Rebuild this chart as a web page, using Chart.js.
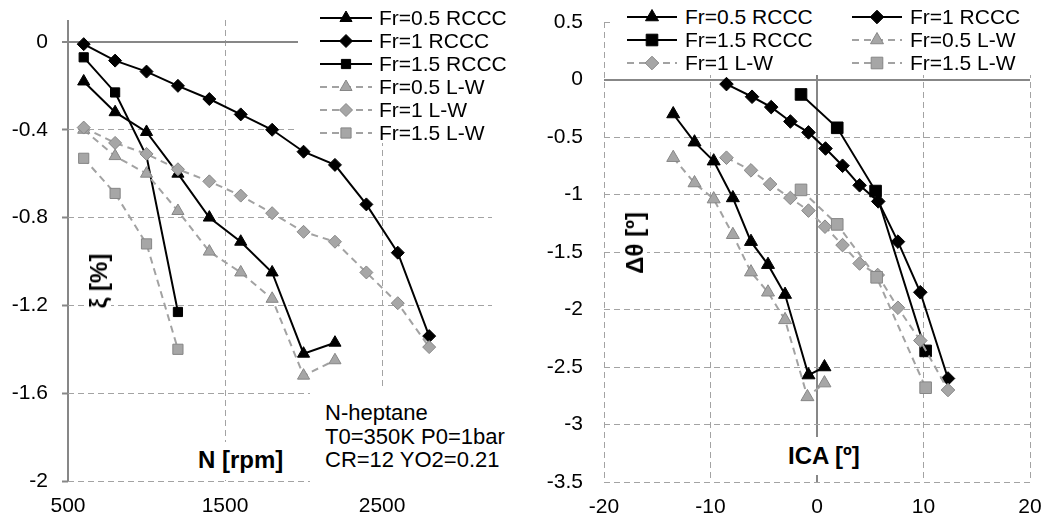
<!DOCTYPE html>
<html>
<head>
<meta charset="utf-8">
<script src="https://cdn.jsdelivr.net/npm/chart.js@4.4.1/dist/chart.umd.min.js"></script>
<style>
  body { margin: 0; background: #fff; width: 1048px; height: 527px; position: relative; overflow: hidden;
         font-family: 'Liberation Sans', Arial, sans-serif; color: #000; }
  .plot { position: absolute; top: 0; }
  .box { position: absolute; background: #fff; white-space: nowrap; }
  .legend .item { display: flex; align-items: center; font-size: 21px; }
  .legend canvas { display: block; }
  .title { font-weight: bold; font-size: 24px; }
  .rot { position: absolute; background: #fff; white-space: nowrap; font-weight: bold; font-size: 24px;
         transform: translate(-50%, -50%) rotate(-90deg); line-height: 24px; padding: 0 2px; }
</style>
</head>
<body>
<canvas id="leftChart" class="plot" width="524" height="527" style="left:0"></canvas>
<canvas id="rightChart" class="plot" width="524" height="527" style="left:524px"></canvas>

<div id="leftLegend" class="box legend" style="left:298px; top:0; width:234px; height:143px; padding:6px 0 0 22px; box-sizing:border-box;"></div>
<div id="rightLegend" class="box legend" style="left:612px; top:0; width:436px; height:75px; padding:6px 0 0 15px; box-sizing:border-box; display:grid; grid-template-columns:225px auto;"></div>

<div class="box" style="left:310px; top:386px; width:200px; height:100px; padding:15px 0 0 15px; box-sizing:border-box; font-size:22px; line-height:23.5px;">N-heptane<br>T0=350K P0=1bar<br>CR=12 YO2=0.21</div>
<div class="box title" style="left:194px; top:442px; height:35px; line-height:35px; padding:0 4px;">N [rpm]</div>
<div class="box title" style="left:784px; top:437px; height:38px; line-height:38px; padding:0 4px;">ICA [º]</div>
<div class="rot" style="left:99px; top:281px;">ξ [%]</div>
<div class="rot" style="left:635px; top:243px;">Δθ [º]</div>

<script>
// left chart: xi [%] vs N [rpm]
var rpm05 = [600, 800, 1000, 1200, 1400, 1600, 1800, 2000, 2200];
var rpm1 = [600, 800, 1000, 1200, 1400, 1600, 1800, 2000, 2200, 2400, 2600, 2800];
var rpm15 = [600, 800, 1000, 1200];

var xiRccc05 = [-0.18, -0.32, -0.41, -0.60, -0.80, -0.91, -1.05, -1.42, -1.37];
var xiRccc1 = [-0.01, -0.085, -0.135, -0.20, -0.26, -0.33, -0.40, -0.50, -0.56, -0.74, -0.96, -1.34];
var xiRccc15 = [-0.07, -0.23, -0.52, -1.23];
var xiLw05 = [-0.40, -0.52, -0.60, -0.77, -0.955, -1.05, -1.17, -1.52, -1.45];
var xiLw1 = [-0.39, -0.46, -0.51, -0.58, -0.635, -0.70, -0.78, -0.865, -0.91, -1.05, -1.19, -1.39];
var xiLw15 = [-0.53, -0.69, -0.92, -1.40];

// right chart: d-theta [deg] vs ICA [deg]
var icaRccc05 = [-13.5, -11.5, -9.7, -7.9, -6.2, -4.6, -3.0, -0.8, 0.7];
var dthRccc05 = [-0.30, -0.545, -0.71, -1.03, -1.41, -1.61, -1.87, -2.57, -2.50];
var icaRccc1 = [-8.5, -6.1, -4.3, -2.5, -0.8, 0.8, 2.4, 4.0, 5.75, 7.6, 9.7, 12.3];
var dthRccc1 = [-0.04, -0.15, -0.24, -0.365, -0.46, -0.60, -0.75, -0.92, -1.06, -1.41, -1.85, -2.60];
var icaRccc15 = [-1.5, 1.9, 5.5, 10.2];
var dthRccc15 = [-0.13, -0.42, -0.97, -2.36];
var icaLw05 = [-13.5, -11.5, -9.7, -7.9, -6.2, -4.6, -3.0, -0.9, 0.7];
var dthLw05 = [-0.68, -0.90, -1.04, -1.35, -1.675, -1.85, -2.09, -2.76, -2.64];
var icaLw1 = [-8.5, -6.2, -4.4, -2.5, -0.8, 0.75, 2.4, 4.0, 5.7, 7.6, 9.7, 12.3];
var dthLw1 = [-0.68, -0.79, -0.91, -1.03, -1.14, -1.28, -1.44, -1.60, -1.70, -1.985, -2.27, -2.70];
var icaLw15 = [-1.5, 1.9, 5.6, 10.2];
var dthLw15 = [-0.96, -1.26, -1.72, -2.68];

var seriesNames = ['Fr=0.5 RCCC', 'Fr=1 RCCC', 'Fr=1.5 RCCC', 'Fr=0.5 L-W', 'Fr=1 L-W', 'Fr=1.5 L-W'];

var xTicksLeft = [500, 1500, 2500];
var yTicksLeft = [-2, -1.6, -1.2, -0.8, -0.4, 0];
var xTicksRight = [-20, -10, 0, 10, 20];
var yTicksRight = [-3.5, -3, -2.5, -2, -1.5, -1, -0.5, 0, 0.5];

var gridColor = '#a3a3a3';
var axisColor = '#878787';
var tickFont = {family: "'Liberation Sans', Arial, sans-serif", size: 21};

function pairs(xs, ys) {
    return xs.map(function(x, i) { return {x: x, y: ys[i]}; });
}

// i: 0..5 in seriesNames order, radii: [triangle, diamond, square]
// noMarker: point indexes drawn without a marker (hidden in the original)
function makeDataset(i, points, radii, noMarker) {
    var rccc = i < 3;
    var r = radii[i % 3];
    var skip = noMarker || [];
    return {
        label: seriesNames[i],
        data: points,
        order: 5 - i,
        borderColor: rccc ? '#000' : '#a2a2a2',
        borderWidth: 2,
        borderDash: rccc ? [] : [7, 5],
        pointStyle: ['triangle', 'rectRot', 'rect'][i % 3],
        markerRadius: r,
        pointRadius: function(c) { return skip.indexOf(c.dataIndex) >= 0 ? 0 : r; },
        pointBackgroundColor: rccc ? '#000' : '#a6a6a6',
        pointBorderColor: rccc ? '#000' : '#868686',
        pointBorderWidth: 1,
        tension: 0
    };
}

function setTicks(list) {
    return function(scale) {
        scale.ticks = list.map(function(v) { return {value: v}; });
    };
}

function isAxis(v) {
    return function(ctx) { return ctx.tick && ctx.tick.value === v; };
}

function axisOpts(min, max, ticks, axisAt, size, isX, pad, tickMarks) {
    var onAxis = isAxis(axisAt);
    return {
        type: 'linear',
        min: min,
        max: max,
        afterBuildTicks: setTicks(ticks),
        afterFit: function(s) {
            if (isX) s.height = size; else s.width = size;
            // labels may overhang the plot area, like in the original
            s.paddingTop = 0; s.paddingBottom = 0; s.paddingLeft = 0; s.paddingRight = 0;
        },
        grid: {
            color: function(c) { return onAxis(c) ? axisColor : gridColor; },
            lineWidth: function(c) { return onAxis(c) ? 2 : 1; },
            drawTicks: tickMarks,
            tickLength: 6,
            tickColor: axisColor,
            tickWidth: 2,
            tickBorderDash: []
        },
        border: {
            display: false,
            dash: function(c) { return onAxis(c) ? [] : [6, 4]; }
        },
        ticks: {
            padding: pad,
            color: '#000',
            font: tickFont,
            autoSkip: false,
            maxRotation: 0,
            callback: function(v) { return String(v); }
        }
    };
}

function baseOptions(padding, scales) {
    return {
        responsive: false,
        animation: false,
        layout: {padding: padding, autoPadding: false},
        plugins: {legend: {display: false}, tooltip: {enabled: false}},
        scales: scales
    };
}

var leftRadii = [7, 6.5, 6.5];
var leftChart = new Chart(document.getElementById('leftChart'), {
    type: 'line',
    data: {
        datasets: [
            makeDataset(0, pairs(rpm05, xiRccc05), leftRadii),
            makeDataset(1, pairs(rpm1, xiRccc1), leftRadii),
            makeDataset(2, pairs(rpm15, xiRccc15), leftRadii, [2]),
            makeDataset(3, pairs(rpm05, xiLw05), leftRadii),
            makeDataset(4, pairs(rpm1, xiLw1), leftRadii),
            makeDataset(5, pairs(rpm15, xiLw15), [7, 6.5, 7.2])
        ]
    },
    options: baseOptions({top: 20, right: 32, bottom: 0, left: 0}, {
        x: axisOpts(500, 3200, xTicksLeft, 500, 46, true, 13, false),
        y: axisOpts(-2, 0.1, yTicksLeft, 0, 68, false, 14, true)
    })
});

var rightRadii = [7.5, 6.8, 8.2];
var rightChart = new Chart(document.getElementById('rightChart'), {
    type: 'line',
    data: {
        datasets: [
            makeDataset(0, pairs(icaRccc05, dthRccc05), rightRadii),
            makeDataset(1, pairs(icaRccc1, dthRccc1), rightRadii),
            makeDataset(2, pairs(icaRccc15, dthRccc15), rightRadii),
            makeDataset(3, pairs(icaLw05, dthLw05), rightRadii),
            makeDataset(4, pairs(icaLw1, dthLw1), rightRadii),
            makeDataset(5, pairs(icaLw15, dthLw15), rightRadii)
        ]
    },
    options: baseOptions({top: 22, right: 18, bottom: 0, left: 0}, {
        x: axisOpts(-20, 20, xTicksRight, 0, 45, true, 13, false),
        y: axisOpts(-3.5, 0.5, yTicksRight, 0, 80, false, 21, false)
    })
});

function drawIcon(cv, ds) {
    var c = cv.getContext('2d');
    var mid = cv.height / 2;
    c.strokeStyle = ds.borderColor;
    c.lineWidth = ds.borderWidth;
    c.setLineDash(ds.borderDash);
    c.beginPath();
    c.moveTo(0, mid);
    c.lineTo(cv.width, mid);
    c.stroke();
    c.setLineDash([]);
    c.fillStyle = ds.pointBackgroundColor;
    c.strokeStyle = ds.pointBorderColor;
    c.lineWidth = ds.pointBorderWidth;
    Chart.helpers.drawPoint(c, {pointStyle: ds.pointStyle, radius: ds.markerRadius,
        borderWidth: ds.pointBorderWidth, rotation: 0}, cv.width / 2, mid);
}

function buildLegend(chart, el, iconW, gap, rowH) {
    chart.data.datasets.forEach(function(ds) {
        var item = document.createElement('div');
        item.className = 'item';
        item.style.height = rowH + 'px';
        var cv = document.createElement('canvas');
        cv.width = iconW;
        cv.height = 20;
        drawIcon(cv, ds);
        var txt = document.createElement('span');
        txt.textContent = ds.label;
        txt.style.marginLeft = gap + 'px';
        item.appendChild(cv);
        item.appendChild(txt);
        el.appendChild(item);
    });
}

buildLegend(leftChart, document.getElementById('leftLegend'), 52, 7, 23);
buildLegend(rightChart, document.getElementById('rightLegend'), 50, 8, 22.5);
</script>
</body>
</html>
